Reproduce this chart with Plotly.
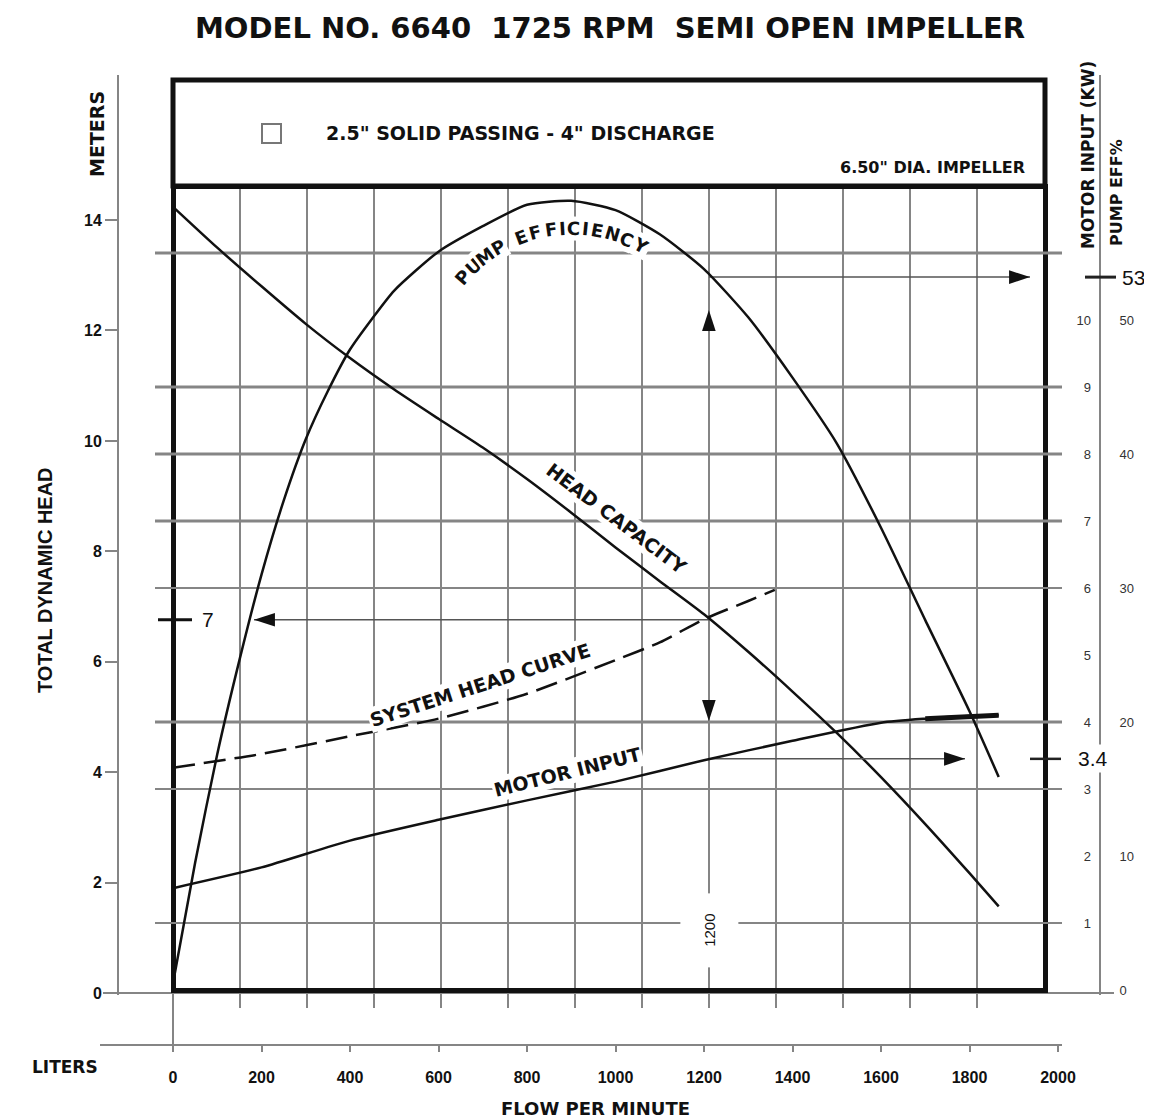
import math
import plotly.graph_objects as go

# ---------------- data ----------------
flow_ticks = [0, 200, 400, 600, 800, 1000, 1200, 1400, 1600, 1800, 2000]
meters_ticks = [0, 2, 4, 6, 8, 10, 12, 14]
kw_ticks = [0, 1, 2, 3, 4, 5, 6, 7, 8, 9, 10]
eff_ticks = [0, 10, 20, 30, 40, 50]
eff_tick_marks = [20, 30, 40]

head_flow = [0, 100, 200, 300, 400, 500, 600, 700, 800, 900, 1000, 1100, 1200,
             1300, 1400, 1500, 1600, 1700, 1800, 1866]
head_m = [14.24, 13.50, 12.80, 12.12, 11.50, 10.93, 10.40, 9.88, 9.31, 8.70, 8.07,
          7.46, 6.86, 6.18, 5.46, 4.71, 3.91, 3.06, 2.17, 1.57]

eff_flow = [0, 50, 100, 150, 200, 250, 300, 350, 400, 450, 500, 600, 700, 800, 900,
            1000, 1100, 1200, 1300, 1400, 1500, 1600, 1700, 1800, 1866]
eff_pct = [0.5, 9.5, 17.6, 24.6, 31.0, 36.5, 41.1, 44.7, 47.8, 50.1, 52.2, 55.1, 57.0,
           58.6, 58.9, 58.2, 56.4, 53.8, 50.2, 45.7, 40.8, 34.5, 27.6, 20.8, 15.9]

motor_flow = [0, 200, 400, 600, 800, 1000, 1200, 1400, 1600, 1700, 1800, 1866]
motor_kw = [1.52, 1.83, 2.23, 2.54, 2.83, 3.11, 3.43, 3.72, 3.99, 4.05, 4.09, 4.10]
motor_thick_flow = [1700, 1800, 1866]
motor_thick_kw = [4.05, 4.09, 4.10]

sys_flow = [0, 200, 400, 600, 800, 1000, 1100, 1200, 1300, 1360]
sys_m = [4.08, 4.33, 4.65, 4.97, 5.42, 6.03, 6.35, 6.77, 7.10, 7.30]

kw_grid_major = [11, 9, 8, 7, 4]
kw_grid_minor = [6, 3, 1]
gpm40_in_lpm = 151.4           # vertical grid spacing (40 US GPM)

op_flow = 1211                 # operating-point vertical line
op_flow_label = "1200"
op_head = 6.76
op_head_label = "7"
op_kw = 3.45
op_kw_label = "3.4"
op_eff = 53.2
op_eff_label = "53"

# ---------------- page geometry ----------------
W, H = 1152, 1120
OFF = 8  # page body margin of the html page
def fx(px): return (px - OFF) / W
def fy(py): return 1 - (py - OFF) / H

X0_PX, PX_PER_L = 173.0, 0.4425
M0_PY, PX_PER_M = 993.0, 55.21
KW0_PY, PX_PER_KW = 990.0, 67.0
EFF_PER_KW = 5.0
def L_at(px): return (px - X0_PX) / PX_PER_L
def m_at(py): return (M0_PY - py) / PX_PER_M
def kw_at(py): return (KW0_PY - py) / PX_PER_KW

FONT = "Liberation Sans, Arial, Helvetica, sans-serif"
WIDE = "DejaVu Sans, Verdana, sans-serif"
GRID = "#858585"
INK = "#111111"

fig = go.Figure()

# dummy trace for the frame / grid subplot
fig.add_trace(go.Scatter(x=[None], y=[None], xaxis="x", yaxis="y",
                         showlegend=False, hoverinfo="skip"))

# operating point guide lines
guide = dict(color="#555", width=1.5)
fig.add_trace(go.Scatter(x=[L_at(254), op_flow], y=[op_head, op_head], mode="lines",
                         line=guide, xaxis="x2", yaxis="y2",
                         showlegend=False, hoverinfo="skip"))
fig.add_trace(go.Scatter(x=[op_flow, L_at(1030)], y=[op_eff, op_eff], mode="lines",
                         line=guide, xaxis="x2", yaxis="y4",
                         showlegend=False, hoverinfo="skip"))
fig.add_trace(go.Scatter(x=[op_flow, L_at(965)], y=[op_kw, op_kw], mode="lines",
                         line=guide, xaxis="x2", yaxis="y3",
                         showlegend=False, hoverinfo="skip"))

# curves
curve = dict(color=INK, width=2.5, shape="spline", smoothing=0.6)
fig.add_trace(go.Scatter(x=head_flow, y=head_m, mode="lines", name="HEAD CAPACITY",
                         line=curve, xaxis="x2", yaxis="y2", showlegend=False))
fig.add_trace(go.Scatter(x=sys_flow, y=sys_m, mode="lines", name="SYSTEM HEAD CURVE",
                         line=dict(curve, dash="22px,9px"),
                         xaxis="x2", yaxis="y2", showlegend=False))
fig.add_trace(go.Scatter(x=eff_flow, y=eff_pct, mode="lines", name="PUMP EFFICIENCY",
                         line=curve, xaxis="x2", yaxis="y4", showlegend=False))
fig.add_trace(go.Scatter(x=motor_flow, y=motor_kw, mode="lines", name="MOTOR INPUT",
                         line=curve, xaxis="x2", yaxis="y3", showlegend=False))
fig.add_trace(go.Scatter(x=motor_thick_flow, y=motor_thick_kw, mode="lines",
                         line=dict(color=INK, width=5), xaxis="x2", yaxis="y3",
                         showlegend=False, hoverinfo="skip"))

# arrow heads
arrow = dict(symbol="arrow", size=22, color=INK, line=dict(width=0))
fig.add_trace(go.Scatter(x=[L_at(254)], y=[op_head], mode="markers",
                         marker=dict(arrow, angle=270), xaxis="x2", yaxis="y2",
                         showlegend=False, hoverinfo="skip"))
fig.add_trace(go.Scatter(x=[L_at(1030)], y=[op_eff], mode="markers",
                         marker=dict(arrow, angle=90), xaxis="x2", yaxis="y4",
                         showlegend=False, hoverinfo="skip"))
fig.add_trace(go.Scatter(x=[L_at(965)], y=[op_kw], mode="markers",
                         marker=dict(arrow, angle=90), xaxis="x2", yaxis="y3",
                         showlegend=False, hoverinfo="skip"))
fig.add_trace(go.Scatter(x=[op_flow], y=[kw_at(310)], mode="markers",
                         marker=dict(arrow, angle=0), xaxis="x2", yaxis="y3",
                         showlegend=False, hoverinfo="skip"))
fig.add_trace(go.Scatter(x=[op_flow], y=[kw_at(721)], mode="markers",
                         marker=dict(arrow, angle=180), xaxis="x2", yaxis="y3",
                         showlegend=False, hoverinfo="skip"))

# ---------------- shapes ----------------
shapes = []
for v in kw_grid_major:
    shapes.append(dict(type="line", xref="x2", yref="y3", x0=L_at(155), x1=L_at(1066),
                       y0=v, y1=v, line=dict(color=GRID, width=3), layer="below"))
for v in kw_grid_minor:
    shapes.append(dict(type="line", xref="x2", yref="y3", x0=L_at(155), x1=L_at(1066),
                       y0=v, y1=v, line=dict(color=GRID, width=2), layer="below"))
shapes.append(dict(type="line", xref="paper", yref="y2", x0=fx(103), x1=fx(1114),
                   y0=0, y1=0, line=dict(color=GRID, width=2), layer="below"))
shapes.append(dict(type="line", xref="x2", yref="paper", x0=0, x1=0,
                   y0=fy(1052), y1=fy(990), line=dict(color=GRID, width=2), layer="below"))
shapes.append(dict(type="rect", xref="paper", yref="paper", x0=fx(173), x1=fx(1045),
                   y0=fy(186), y1=fy(80), line=dict(color=INK, width=5)))
shapes.append(dict(type="rect", xref="paper", yref="paper", x0=fx(262), x1=fx(281),
                   y0=fy(143), y1=fy(124), line=dict(color="#777", width=2)))
shapes.append(dict(type="line", xref="x2", yref="y2", x0=L_at(158), x1=L_at(192),
                   y0=op_head, y1=op_head, line=dict(color=INK, width=3)))
shapes.append(dict(type="line", xref="paper", yref="y4", x0=fx(1085), x1=fx(1116),
                   y0=op_eff, y1=op_eff, line=dict(color="#222", width=3)))
shapes.append(dict(type="line", xref="paper", yref="y3", x0=fx(1030), x1=fx(1061),
                   y0=op_kw, y1=op_kw, line=dict(color="#222", width=2.5)))

# ---------------- annotations ----------------
ann = []
def text(x, y, s, size, bold=True, angle=0, family=FONT, color=INK, **kw):
    d = dict(x=fx(x), y=fy(y), xref="paper", yref="paper", text=s, showarrow=False,
             textangle=angle,
             font=dict(family=family, size=size, color=color,
                       weight="bold" if bold else "normal"),
             xanchor="center", yanchor="middle")
    d.update(kw)
    return d

NB = "\u00a0"
ann.append(text(610, 28, f"MODEL NO. 6640{NB}{NB}1725 RPM{NB}{NB}SEMI OPEN IMPELLER", 29,
                family=WIDE))
ann.append(text(520, 133, '2.5" SOLID PASSING - 4" DISCHARGE', 19, family=WIDE))
ann.append(text(932, 168, '6.50" DIA. IMPELLER', 16, family=WIDE))
ann.append(text(97, 134, "METERS", 19, angle=-90, family=WIDE))
ann.append(text(45, 580, "TOTAL DYNAMIC HEAD", 20, angle=-90))
ann.append(text(1088, 155, "MOTOR INPUT (KW)", 17, angle=-90, family=WIDE))
ann.append(text(1117, 193, "PUMP EFF%", 16, angle=-90, family=WIDE))
ann.append(text(65, 1067, "LITERS", 17, family=WIDE))
ann.append(text(595, 1108, "FLOW PER MINUTE", 18, family=WIDE))

# curve labels
lbl = dict(bgcolor="white", borderpad=1)
ann.append(text(616, 518, "HEAD CAPACITY", 19, angle=37, family=WIDE, **lbl))
ann.append(text(480, 685, "SYSTEM HEAD CURVE", 19, angle=-18, family=WIDE, **lbl))
ann.append(text(567, 772, "MOTOR INPUT", 19, angle=-14, family=WIDE, **lbl))

# PUMP EFFICIENCY set along its arc
arc_cx, arc_cy, arc_r = 571, 372, 144
arc_a0, arc_a1 = -52.0, 32.0
word = "PUMP EFFICIENCY"
wts = [0.5 if c == "I" else 0.6 if c == " " else 1.0 for c in word]
step = (arc_a1 - arc_a0) / sum(wts)
cum = 0.0
for c, w in zip(word, wts):
    a = arc_a0 + (cum + w / 2) * step
    cum += w
    if c == " ":
        continue
    ax = arc_cx + arc_r * math.sin(math.radians(a))
    ay = arc_cy - arc_r * math.cos(math.radians(a))
    ann.append(text(ax, ay, c, 18, angle=a, family=WIDE, **lbl))

# operating values
ann.append(dict(x=fx(208), y=op_head, xref="paper", yref="y2", text=op_head_label,
                showarrow=False, font=dict(family=FONT, size=21, color=INK),
                xanchor="center", yanchor="middle"))
ann.append(dict(x=fx(1133), y=op_eff, xref="paper", yref="y4", text=op_eff_label,
                showarrow=False, font=dict(family=FONT, size=21, color=INK),
                xanchor="center", yanchor="middle"))
ann.append(dict(x=fx(1093), y=op_kw, xref="paper", yref="y3", text=op_kw_label,
                showarrow=False, font=dict(family=FONT, size=21, color=INK),
                xanchor="center", yanchor="middle", bgcolor="white", borderpad=2))
ann.append(dict(x=op_flow, y=fy(930), xref="x2", yref="paper", text=op_flow_label,
                showarrow=False, textangle=-90,
                font=dict(family=FONT, size=15, color=INK),
                xanchor="center", yanchor="middle", bgcolor="white", borderpad=20))

# ---------------- axes ----------------
frame_l, frame_r, frame_b, frame_t = 175.5, 1042.5, 987.5, 188.5
kw_rng = [kw_at(995), kw_at(75)]
common_off = dict(showgrid=False, zeroline=False, automargin=False)

fig.update_layout(
    width=W, height=H, template="none",
    margin=dict(l=0, r=0, t=0, b=0), autosize=False,
    paper_bgcolor="white", plot_bgcolor="rgba(0,0,0,0)",
    font=dict(family=FONT, color=INK),
    showlegend=False,
    xaxis=dict(domain=[fx(frame_l), fx(frame_r)], range=[L_at(frame_l), L_at(frame_r)],
               anchor="y", tick0=0, dtick=gpm40_in_lpm, showgrid=True, gridcolor=GRID,
               gridwidth=2, ticks="outside", ticklen=15, tickwidth=2, tickcolor=GRID,
               showticklabels=False, showline=True, linecolor=INK, linewidth=5,
               mirror=True, zeroline=False, automargin=False),
    yaxis=dict(domain=[fy(frame_b), fy(frame_t)], range=[0, 1], anchor="x",
               showticklabels=False, ticks="", showline=True, linecolor=INK,
               linewidth=5, mirror=True, **common_off),
    xaxis2=dict(domain=[fx(100), fx(1062)], range=[L_at(100), L_at(1062)],
                anchor="free", position=fy(1045), showline=True, linecolor=GRID,
                linewidth=2, tickmode="array", tickvals=flow_ticks, ticks="outside",
                ticklen=6, tickwidth=2, tickcolor=GRID, ticklabelstandoff=12,
                tickfont=dict(family=FONT, size=16, color=INK, weight="bold"),
                **common_off),
    yaxis2=dict(domain=[fy(995), fy(75)], range=[m_at(995), m_at(75)],
                anchor="free", position=fx(118), side="left", showline=True,
                linecolor=GRID, linewidth=2, tickmode="array", tickvals=meters_ticks,
                ticks="outside", ticklen=12, tickwidth=2, tickcolor=GRID,
                tickfont=dict(family=FONT, size=16, color=INK, weight="bold"),
                **common_off),
    yaxis3=dict(overlaying="y2", anchor="free", position=fx(1100), side="right",
                range=kw_rng, tickmode="array", tickvals=kw_ticks, ticks="",
                ticklabelposition="inside", ticklabelstandoff=6, showline=False,
                tickfont=dict(family=FONT, size=13, color="#333"), **common_off),
    yaxis4=dict(overlaying="y2", anchor="free", position=fx(1100), side="right",
                range=[v * EFF_PER_KW for v in kw_rng], tickmode="array",
                tickvals=eff_ticks, ticks="", ticklabelstandoff=16, showline=True,
                linecolor=GRID, linewidth=2,
                tickfont=dict(family=FONT, size=13, color="#333"), **common_off),
    yaxis5=dict(overlaying="y2", anchor="free", position=fx(1100), side="right",
                range=[v * EFF_PER_KW for v in kw_rng], tickmode="array",
                tickvals=eff_tick_marks, ticks="outside", ticklen=13, tickwidth=2,
                tickcolor=GRID, showticklabels=False, showline=False, **common_off),
    shapes=shapes,
    annotations=ann,
)

fig.write_html("out.html")
